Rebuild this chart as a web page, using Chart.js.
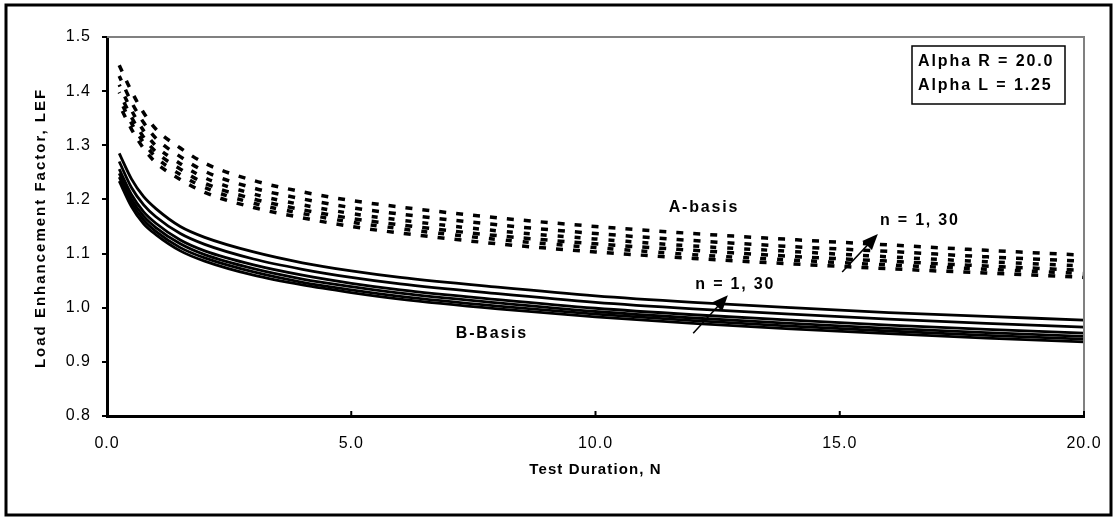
<!DOCTYPE html>
<html>
<head>
<meta charset="utf-8">
<script src="https://cdn.jsdelivr.net/npm/chart.js@4.4.0/dist/chart.umd.min.js"></script>
<style>
html, body { margin: 0; padding: 0; background: #fff; }
#wrap { width: 1117px; height: 520px; }
</style>
</head>
<body>
<div id="wrap"><canvas id="lef" width="1117" height="520"></canvas></div>
<script>
// test duration N (x values shared by every curve)
const duration = [0.25, 0.5, 0.75, 1, 1.5, 2, 3, 4, 5, 6, 8, 10, 12, 14, 16, 18, 20];

// A-basis LEF, n = 1 ... 30 (top to bottom)
const aBasis1 = [1.448, 1.400, 1.360, 1.330, 1.295, 1.267, 1.235, 1.214, 1.198, 1.186, 1.166, 1.150, 1.137, 1.126, 1.116, 1.106, 1.097];
const aBasis2 = [1.428, 1.380, 1.342, 1.313, 1.279, 1.252, 1.221, 1.201, 1.185, 1.173, 1.153, 1.137, 1.124, 1.113, 1.104, 1.094, 1.086];
const aBasis3 = [1.412, 1.365, 1.327, 1.299, 1.266, 1.240, 1.210, 1.190, 1.174, 1.162, 1.142, 1.127, 1.114, 1.104, 1.094, 1.085, 1.077];
const aBasis4 = [1.398, 1.352, 1.315, 1.288, 1.256, 1.230, 1.201, 1.181, 1.165, 1.153, 1.133, 1.118, 1.106, 1.095, 1.086, 1.077, 1.069];
const aBasis5 = [1.387, 1.341, 1.305, 1.278, 1.246, 1.222, 1.193, 1.174, 1.158, 1.146, 1.126, 1.111, 1.098, 1.088, 1.079, 1.071, 1.063];
const aBasis6 = [1.375, 1.330, 1.294, 1.268, 1.237, 1.213, 1.185, 1.166, 1.150, 1.138, 1.118, 1.103, 1.091, 1.081, 1.072, 1.064, 1.056];

// B-basis LEF, n = 1 ... 30 (top to bottom)
const bBasis1 = [1.285, 1.238, 1.205, 1.183, 1.150, 1.130, 1.103, 1.083, 1.068, 1.056, 1.038, 1.022, 1.010, 1.000, 0.991, 0.984, 0.977];
const bBasis2 = [1.270, 1.222, 1.190, 1.168, 1.137, 1.117, 1.090, 1.071, 1.056, 1.044, 1.026, 1.010, 0.998, 0.988, 0.979, 0.971, 0.964];
const bBasis3 = [1.256, 1.209, 1.177, 1.156, 1.125, 1.105, 1.079, 1.060, 1.045, 1.033, 1.015, 0.999, 0.987, 0.977, 0.968, 0.960, 0.953];
const bBasis4 = [1.248, 1.201, 1.169, 1.148, 1.118, 1.098, 1.072, 1.053, 1.039, 1.027, 1.009, 0.993, 0.981, 0.971, 0.962, 0.954, 0.947];
const bBasis5 = [1.241, 1.194, 1.162, 1.141, 1.111, 1.092, 1.066, 1.047, 1.033, 1.021, 1.003, 0.988, 0.976, 0.966, 0.957, 0.949, 0.942];
const bBasis6 = [1.234, 1.187, 1.155, 1.135, 1.105, 1.086, 1.060, 1.042, 1.028, 1.016, 0.998, 0.983, 0.971, 0.961, 0.952, 0.944, 0.937];

// axis ticks
const xTicks = [0, 5, 10, 15, 20];
const yTicks = [0.8, 0.9, 1.0, 1.1, 1.2, 1.3, 1.4, 1.5];

// text notes, placed in data units
const noteText = ['A-basis', 'B-Basis', 'n = 1, 30', 'n = 1, 30'];
const noteX = [12.22, 7.88, 12.86, 16.64];
const noteY = [1.184, 0.953, 1.042, 1.160];

// arrows (from -> to), data units
const arrowFromX = [12.00, 15.05];
const arrowFromY = [0.953, 1.066];
const arrowToX = [12.71, 15.78];
const arrowToY = [1.023, 1.136];

const boxLines = ['Alpha R = 20.0', 'Alpha L = 1.25'];

const FONT = '"Liberation Sans", Arial, sans-serif';

function pts(ys) {
    return duration.map((x, i) => ({ x: x, y: ys[i] }));
}

const dashes = [[7, 10], [7, 10], [6, 11], [7, 10], [6, 11], [7, 10]];
const aSets = [aBasis1, aBasis2, aBasis3, aBasis4, aBasis5, aBasis6].map((s, i) => ({
    data: pts(s),
    borderColor: '#000',
    borderWidth: 3.5,
    borderDash: dashes[i],
    borderDashOffset: i * 2,
    pointRadius: 0,
    cubicInterpolationMode: 'monotone',
    fill: false
}));
const bSets = [bBasis1, bBasis2, bBasis3, bBasis4, bBasis5, bBasis6].map(s => ({
    data: pts(s),
    borderColor: '#000',
    borderWidth: 2.8,
    pointRadius: 0,
    cubicInterpolationMode: 'monotone',
    fill: false
}));

function spaced(ctx, txt, x, y, spacing) {
    ctx.letterSpacing = spacing + 'px';
    ctx.fillText(txt, x, y);
    ctx.letterSpacing = '0px';
}

const decor = {
    id: 'decor',
    beforeDraw(chart) {
        // a little tracking on the tick labels, like the original
        chart.ctx.letterSpacing = '1px';
    },
    afterDraw(chart) {
        const ctx = chart.ctx;
        const area = chart.chartArea;
        const xs = chart.scales.x;
        const ys = chart.scales.y;
        ctx.letterSpacing = '0px';
        ctx.save();

        // outer frame
        ctx.strokeStyle = '#000';
        ctx.lineWidth = 3;
        ctx.strokeRect(6, 5, 1105, 510);

        // grey plot border top / right
        ctx.strokeStyle = '#808080';
        ctx.lineWidth = 2;
        ctx.beginPath();
        ctx.moveTo(area.left, area.top);
        ctx.lineTo(area.right, area.top);
        ctx.lineTo(area.right, area.bottom);
        ctx.stroke();

        // inside tick marks on x axis
        ctx.strokeStyle = '#000';
        ctx.lineWidth = 2;
        xTicks.forEach(v => {
            const px = xs.getPixelForValue(v);
            ctx.beginPath();
            ctx.moveTo(px, area.bottom);
            ctx.lineTo(px, area.bottom - 5);
            ctx.stroke();
        });

        // axis titles
        ctx.fillStyle = '#000';
        ctx.font = 'bold 15px ' + FONT;
        ctx.textAlign = 'center';
        ctx.textBaseline = 'middle';
        spaced(ctx, 'Test Duration, N', (area.left + area.right) / 2, 470, 1.1);
        ctx.save();
        ctx.translate(41, 228);
        ctx.rotate(-Math.PI / 2);
        spaced(ctx, 'Load Enhancement Factor, LEF', 0, 0, 2);
        ctx.restore();

        // notes
        ctx.font = 'bold 16px ' + FONT;
        noteText.forEach((t, i) => {
            spaced(ctx, t, xs.getPixelForValue(noteX[i]), ys.getPixelForValue(noteY[i]), 1.8);
        });

        // arrows
        ctx.lineWidth = 1.5;
        arrowFromX.forEach((fx, i) => {
            const x0 = xs.getPixelForValue(fx), y0 = ys.getPixelForValue(arrowFromY[i]);
            const x1 = xs.getPixelForValue(arrowToX[i]), y1 = ys.getPixelForValue(arrowToY[i]);
            const ang = Math.atan2(y1 - y0, x1 - x0);
            const len = 17, half = 0.4;
            ctx.beginPath();
            ctx.moveTo(x0, y0);
            ctx.lineTo(x1 - Math.cos(ang) * 10, y1 - Math.sin(ang) * 10);
            ctx.stroke();
            ctx.beginPath();
            ctx.moveTo(x1, y1);
            ctx.lineTo(x1 - len * Math.cos(ang - half), y1 - len * Math.sin(ang - half));
            ctx.lineTo(x1 - len * Math.cos(ang + half), y1 - len * Math.sin(ang + half));
            ctx.closePath();
            ctx.fill();
        });

        // parameter box
        ctx.fillStyle = '#fff';
        ctx.fillRect(912, 46, 153, 58);
        ctx.strokeStyle = '#000';
        ctx.lineWidth = 1.5;
        ctx.strokeRect(912, 46, 153, 58);
        ctx.fillStyle = '#000';
        ctx.textAlign = 'left';
        ctx.font = 'bold 16px ' + FONT;
        boxLines.forEach((t, i) => spaced(ctx, t, 918, 62 + i * 24, 1.9));

        ctx.restore();
    }
};

new Chart(document.getElementById('lef'), {
    type: 'line',
    data: { datasets: aSets.concat(bSets) },
    options: {
        responsive: false,
        animation: false,
        events: [],
        layout: { padding: { left: 47, right: 33, top: 37, bottom: 44 } },
        plugins: { legend: { display: false }, tooltip: { enabled: false } },
        scales: {
            x: {
                type: 'linear',
                min: 0,
                max: 20,
                afterFit: s => { s.height = 60; },
                afterBuildTicks: s => { s.ticks = xTicks.map(v => ({ value: v })); },
                grid: { display: false },
                border: { display: true, color: '#000', width: 3 },
                ticks: {
                    color: '#000',
                    font: { family: FONT, size: 16 },
                    padding: 10,
                    maxRotation: 0,
                    callback: v => v.toFixed(1)
                }
            },
            y: {
                type: 'linear',
                min: 0.8,
                max: 1.5,
                afterFit: s => { s.width = 60; },
                afterBuildTicks: s => { s.ticks = yTicks.map(v => ({ value: v })); },
                grid: { display: true, drawOnChartArea: false, drawTicks: true, tickLength: 5, color: '#000', lineWidth: 2 },
                border: { display: true, color: '#000', width: 3 },
                ticks: {
                    color: '#000',
                    font: { family: FONT, size: 16 },
                    padding: 11,
                    callback: v => v.toFixed(1)
                }
            }
        }
    },
    plugins: [decor]
});
</script>
</body>
</html>
